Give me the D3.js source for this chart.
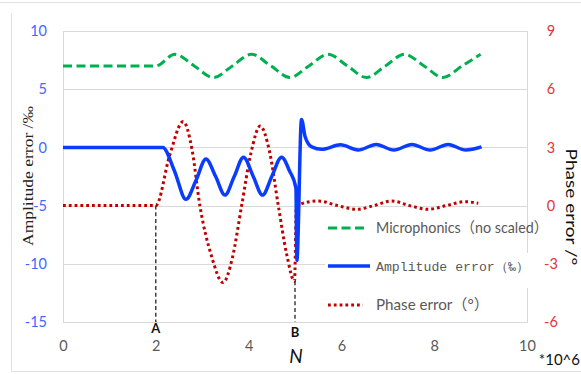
<!DOCTYPE html>
<html><head><meta charset="utf-8">
<script src="https://cdn.jsdelivr.net/npm/d3@7"></script>
<style>
html,body{margin:0;padding:0;background:#fff;}
svg{display:block;}
</style></head>
<body>
<svg id="c" width="581" height="374"></svg>
<script>
// ---- data ----
const xTicks = [0, 2, 4, 6, 8, 10];
const leftTicks = [-15, -10, -5, 0, 5, 10];
const rightTicks = [-6, -3, 0, 3, 6, 9];

const microN = [0, 2.0, 2.41, 2.83, 3.24, 3.65, 4.06, 4.48, 4.89, 5.30, 5.71, 6.13, 6.54, 6.95, 7.36, 7.78, 8.19, 8.60, 9.0];
const microV = [7, 7, 8, 7, 6, 7, 8, 7, 6, 7, 8, 7, 6, 7, 8, 7, 6, 7, 8];

const ampN = [0, 2.15, 2.4, 2.65, 2.87, 3.08, 3.29, 3.49, 3.69, 3.89, 4.1, 4.30, 4.5, 4.71, 4.88, 5.02, 5.04, 5.14, 5.22, 5.36, 5.58, 5.98, 6.36, 6.75, 7.13, 7.52, 7.91, 8.30, 8.68, 9.02];
const ampV = [0, 0, -2.0, -4.46, -2.8, -1.0, -2.5, -4.1, -2.5, -0.85, -2.5, -4.1, -2.5, -0.85, -2.0, -3.5, -9.7, 2.4, 0.9, 0.05, -0.16, 0.22, -0.22, 0.25, -0.22, 0.25, -0.22, 0.25, -0.22, 0.05];

const phaseN = [0, 2.0, 2.3, 2.59, 2.78, 2.95, 3.2, 3.45, 3.65, 3.85, 4.05, 4.25, 4.45, 4.64, 4.82, 4.99, 5.03, 5.5, 5.92, 6.33, 6.7, 7.08, 7.47, 7.87, 8.26, 8.66, 8.95];
const phaseV = [0, 0, 2.6, 4.33, 2.9, 0, -2.6, -3.97, -2.7, 0, 2.7, 4.1, 2.8, 0, -2.5, -3.9, 0.0, 0.24, 0.0, -0.19, 0.0, 0.24, 0.0, -0.19, 0.0, 0.2, 0.12];

const markA = 2, markB = 5;

// ---- layout ----
const svg = d3.select('#c');
const x = d3.scaleLinear().domain([0, 10]).range([63, 527]);
const yL = d3.scaleLinear().domain([-15, 10]).range([322, 31]);
const yR = d3.scaleLinear().domain([-6, 9]).range([322, 31]);
const sans = 'Lato, "Noto Sans", "Noto Sans CJK SC", sans-serif';
const fmt = d => String(d);

// outer frame pieces
svg.append('line').attr('x1', 0).attr('x2', 581).attr('y1', 2.5).attr('y2', 2.5).attr('stroke', '#e3e3e3');
svg.append('line').attr('x1', 11.5).attr('x2', 11.5).attr('y1', 13).attr('y2', 371.5).attr('stroke', '#e0e0e0');
svg.append('line').attr('x1', 11.5).attr('x2', 581).attr('y1', 371.5).attr('y2', 371.5).attr('stroke', '#e0e0e0');

// gridlines
svg.append('g').selectAll('line').data(leftTicks).join('line')
  .attr('x1', x(0)).attr('x2', x(10))
  .attr('y1', d => Math.round(yL(d)) + 0.5).attr('y2', d => Math.round(yL(d)) + 0.5)
  .attr('stroke', '#d9d9d9').attr('stroke-width', 1);
// plot border
svg.append('rect').attr('x', x(0) + 0.5).attr('y', yL(10) + 0.5)
  .attr('width', x(10) - x(0)).attr('height', yL(-15) - yL(10))
  .attr('fill', 'none').attr('stroke', '#d9d9d9');

// legend background
svg.append('rect').attr('x', 325).attr('y', 213).attr('width', 200).attr('height', 106).attr('fill', '#fff');
svg.append('rect').attr('x', 495).attr('y', 253).attr('width', 40).attr('height', 35).attr('fill', '#fff');

// axes
const axL = svg.append('g').attr('transform', `translate(${x(0)},0)`)
  .call(d3.axisLeft(yL).tickValues(leftTicks).tickFormat(fmt).tickSize(0).tickPadding(16));
axL.select('.domain').remove();
axL.selectAll('text').attr('fill', '#4466ff').style('font-family', sans).style('font-size', '14.5px');

const axR = svg.append('g').attr('transform', `translate(${x(10)},0)`)
  .call(d3.axisRight(yR).tickValues(rightTicks).tickFormat(fmt).tickSize(0).tickPadding(24));
axR.select('.domain').remove();
axR.selectAll('text').attr('fill', '#e0363c').attr('text-anchor', 'middle').style('font-family', sans).style('font-size', '14.5px');

const axB = svg.append('g').attr('transform', `translate(0,${yL(-15)})`)
  .call(d3.axisBottom(x).tickValues(xTicks).tickFormat(fmt).tickSize(0).tickPadding(19));
axB.select('.domain').remove();
axB.selectAll('text').attr('fill', '#595959').style('font-family', sans).style('font-size', '14.5px');

// series
const lineL = d3.line().x(d => x(d[0])).y(d => yL(d[1])).curve(d3.curveMonotoneX);
const lineR = d3.line().x(d => x(d[0])).y(d => yR(d[1])).curve(d3.curveMonotoneX);

svg.append('path').datum(microN.map((n, i) => [n, microV[i]])).attr('d', lineL)
  .attr('fill', 'none').attr('stroke', '#00b050').attr('stroke-width', 3).attr('stroke-dasharray', '9,4.5');

svg.append('path').datum(phaseN.map((n, i) => [n, phaseV[i]])).attr('d', lineR)
  .attr('fill', 'none').attr('stroke', '#c00000').attr('stroke-width', 3).attr('stroke-dasharray', '2.8,3');

svg.append('path').datum(ampN.map((n, i) => [n, ampV[i]])).attr('d', lineL)
  .attr('fill', 'none').attr('stroke', '#0a3cff').attr('stroke-width', 3.5).attr('stroke-linejoin', 'round');

// marker dashed lines
svg.append('line').attr('x1', x(markA)).attr('x2', x(markA)).attr('y1', yR(0)).attr('y2', 322)
  .attr('stroke', '#222').attr('stroke-width', 1.3).attr('stroke-dasharray', '4,2.7');
svg.append('line').attr('x1', x(markB)).attr('x2', x(markB)).attr('y1', yR(-3.9)).attr('y2', 322)
  .attr('stroke', '#222').attr('stroke-width', 1.3).attr('stroke-dasharray', '4,2.7');
svg.append('text').attr('x', x(markA)).attr('y', 333).attr('text-anchor', 'middle')
  .style('font-family', sans).style('font-weight', 'bold').style('font-size', '13px').attr('fill', '#111').text('A');
svg.append('text').attr('x', x(markB)).attr('y', 337).attr('text-anchor', 'middle')
  .style('font-family', sans).style('font-weight', 'bold').style('font-size', '13px').attr('fill', '#111').text('B');

// axis titles
svg.append('text').attr('transform', 'translate(33,176) rotate(-90)').attr('text-anchor', 'middle')
  .attr('textLength', 140).attr('lengthAdjust', 'spacingAndGlyphs')
  .style('font-family', '"Liberation Serif", serif').style('font-size', '15.5px').attr('fill', '#222')
  .text('Amplitude error /‰');
svg.append('text').attr('transform', 'translate(566,207) rotate(90)').attr('text-anchor', 'middle')
  .attr('textLength', 117).attr('lengthAdjust', 'spacingAndGlyphs')
  .style('font-family', sans).style('font-size', '15px').attr('fill', '#111')
  .text('Phase error /°');
svg.append('text').attr('x', 296).attr('y', 363).attr('text-anchor', 'middle')
  .style('font-family', sans).style('font-style', 'italic').style('font-size', '19px').attr('fill', '#111').text('N');
svg.append('text').attr('x', 580).attr('y', 365).attr('text-anchor', 'end')
  .style('font-family', sans).style('font-size', '15px').attr('fill', '#111').text('*10^6');

// legend
const legend = [
  {label: 'Microphonics（no scaled）', color: '#00b050', dash: '9,4.5', w: 3, y: 228, font: sans, size: 15, x2: 367, len: 172},
  {label: 'Amplitude error（‰）', color: '#0a3cff', dash: null, w: 3.5, y: 266, font: '"Liberation Mono", monospace', size: 13, x2: 370, len: 153},
  {label: 'Phase error（°）', color: '#c00000', dash: '2.8,3', w: 3, y: 305, font: sans, size: 15, x2: 363, len: 113}
];
const lg = svg.append('g');
legend.forEach(l => {
  lg.append('line').attr('x1', 328).attr('x2', l.x2).attr('y1', l.y).attr('y2', l.y)
    .attr('stroke', l.color).attr('stroke-width', l.w).attr('stroke-dasharray', l.dash);
  lg.append('text').attr('x', 376).attr('y', l.y + 5)
    .attr('textLength', l.len).attr('lengthAdjust', 'spacingAndGlyphs')
    .style('font-family', l.font).style('font-size', l.size + 'px').attr('fill', '#595959').text(l.label);
});
</script>
</body></html>
